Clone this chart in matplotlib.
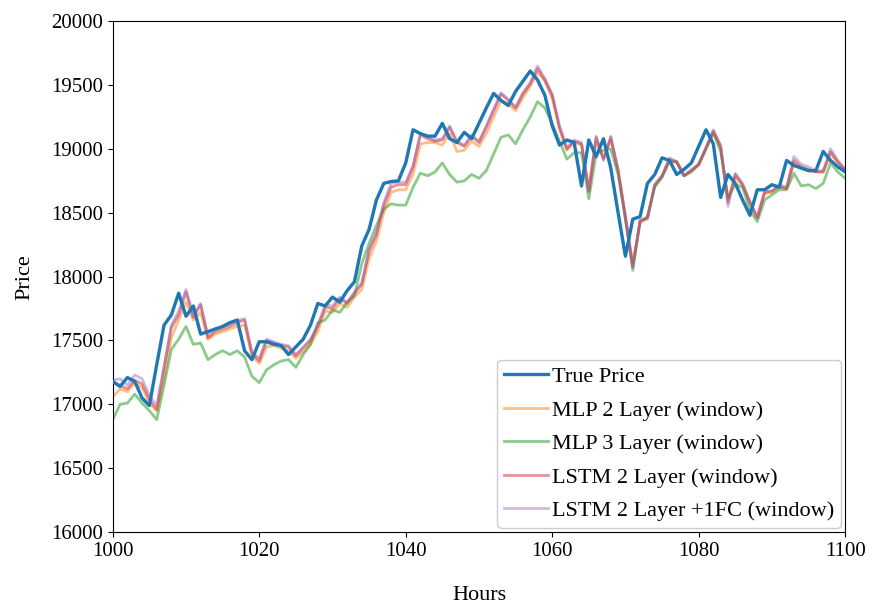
import numpy as np
import matplotlib
matplotlib.use("Agg")
import matplotlib.pyplot as plt

plt.rcParams['font.family'] = ['Liberation Serif', 'DejaVu Serif']

hours = np.arange(1000, 1101)

true_price = [17180, 17140, 17210, 17180, 17050, 16990, 17310, 17620, 17700, 17870,
              17690, 17770, 17550, 17570, 17590, 17610, 17640, 17660, 17420, 17350,
              17490, 17490, 17470, 17460, 17390, 17450, 17510, 17620, 17790, 17770,
              17840, 17800, 17890, 17960, 18240, 18370, 18600, 18730, 18745, 18750,
              18890, 19150, 19120, 19100, 19100, 19200, 19080, 19050, 19130, 19080,
              19200, 19320, 19435, 19380, 19340, 19450, 19530, 19610, 19540, 19420,
              19180, 19030, 19070, 19050, 18710, 19070, 18940, 19080, 18850, 18500,
              18160, 18450, 18470, 18730, 18800, 18930, 18910, 18800, 18840, 18890,
              19020, 19150, 19040, 18620, 18800, 18730, 18600, 18480, 18680, 18680,
              18720, 18700, 18910, 18870, 18850, 18830, 18830, 18980, 18910, 18860,
              18820]

mlp2 = [17060, 17120, 17100, 17170, 17130, 17010, 16950, 17200, 17520, 17660,
        17800, 17660, 17720, 17510, 17550, 17570, 17590, 17610, 17620, 17380,
        17320, 17450, 17460, 17440, 17420, 17360, 17410, 17470, 17570, 17730,
        17720, 17790, 17760, 17840, 17900, 18140, 18280, 18500, 18660, 18680,
        18680, 18800, 19040, 19050, 19050, 19030, 19120, 18980, 18990, 19060,
        19020, 19120, 19250, 19380, 19350, 19300, 19400, 19490, 19600, 19530,
        19400, 19150, 18990, 19050, 19030, 18690, 19060, 18930, 19070, 18840,
        18480, 18100, 18420, 18460, 18710, 18780, 18910, 18890, 18790, 18830,
        18870, 19000, 19120, 19010, 18600, 18780, 18710, 18580, 18470, 18650,
        18660, 18700, 18690, 18890, 18850, 18830, 18820, 18820, 18960, 18890,
        18830]

mlp3 = [16880, 17000, 17010, 17080, 17010, 16950, 16880, 17150, 17430, 17510,
        17610, 17470, 17480, 17350, 17390, 17420, 17390, 17420, 17370, 17220,
        17170, 17270, 17310, 17340, 17350, 17290, 17390, 17470, 17640, 17660,
        17740, 17720, 17800, 17850, 18100, 18260, 18400, 18530, 18570, 18560,
        18560, 18700, 18810, 18790, 18820, 18890, 18800, 18740, 18750, 18800,
        18770, 18830, 18960, 19090, 19110, 19040, 19150, 19250, 19370, 19320,
        19200, 19060, 18920, 18970, 18970, 18610, 18960, 18990, 19000, 18800,
        18450, 18050, 18430, 18470, 18700, 18780, 18900, 18900, 18790, 18820,
        18880, 19000, 19130, 18980, 18620, 18720, 18700, 18520, 18430, 18600,
        18640, 18680, 18680, 18810, 18710, 18720, 18690, 18730, 18890, 18820,
        18770]

lstm2 = [17170, 17150, 17120, 17190, 17160, 17040, 16960, 17280, 17600, 17700,
         17880, 17680, 17780, 17520, 17570, 17590, 17610, 17640, 17660, 17400,
         17340, 17500, 17480, 17460, 17450, 17380, 17440, 17500, 17610, 17760,
         17750, 17830, 17790, 17870, 17940, 18200, 18330, 18560, 18700, 18720,
         18720, 18860, 19110, 19080, 19060, 19070, 19170, 19050, 19020, 19100,
         19050, 19170, 19300, 19430, 19380, 19320, 19430, 19510, 19630, 19540,
         19420, 19170, 19000, 19060, 19040, 18670, 19090, 18920, 19090, 18830,
         18460, 18080, 18440, 18460, 18720, 18790, 18920, 18900, 18790, 18830,
         18880, 19010, 19140, 19020, 18580, 18800, 18720, 18580, 18460, 18660,
         18670, 18710, 18690, 18910, 18860, 18840, 18820, 18820, 18980, 18900,
         18840]

lstm2_fc = [17190, 17200, 17150, 17230, 17200, 17070, 16990, 17300, 17620, 17730,
            17900, 17700, 17790, 17540, 17590, 17610, 17630, 17660, 17670, 17410,
            17360, 17510, 17490, 17470, 17460, 17390, 17450, 17510, 17620, 17780,
            17770, 17840, 17800, 17880, 17950, 18220, 18350, 18580, 18730, 18740,
            18740, 18870, 19120, 19090, 19070, 19080, 19180, 19060, 19030, 19110,
            19060, 19180, 19310, 19440, 19390, 19330, 19440, 19520, 19650, 19550,
            19430, 19180, 19010, 19070, 19050, 18660, 19100, 18910, 19100, 18830,
            18460, 18070, 18440, 18450, 18720, 18790, 18930, 18900, 18790, 18840,
            18880, 19010, 19150, 19030, 18550, 18810, 18730, 18590, 18460, 18670,
            18670, 18720, 18700, 18940, 18880, 18860, 18830, 18830, 19000, 18910,
            18840]

fig = plt.figure(figsize=(8.74, 6.06), dpi=100)
ax = fig.add_axes([0.129, 0.122, 0.838, 0.843])

ax.plot(hours, true_price, color='#1f77b4', lw=2.4, label='True Price', zorder=6)
ax.plot(hours, mlp2, color='#ff7f0e', lw=2, alpha=0.5, label='MLP 2 Layer (window)')
ax.plot(hours, mlp3, color='#2ca02c', lw=2, alpha=0.55, label='MLP 3 Layer (window)')
ax.plot(hours, lstm2, color='#d62728', lw=2, alpha=0.5, label='LSTM 2 Layer (window)')
ax.plot(hours, lstm2_fc, color='#9467bd', lw=2, alpha=0.45, label='LSTM 2 Layer +1FC (window)')

ax.set_xlim(1000, 1100)
ax.set_ylim(16000, 20000)
ax.set_xticks([1000, 1020, 1040, 1060, 1080, 1100])
ax.set_yticks(np.arange(16000, 20001, 500))
ax.tick_params(labelsize=15)
ax.set_xlabel('Hours', fontsize=16, labelpad=18)
ax.set_ylabel('Price', fontsize=16, labelpad=12)

ax.legend(loc='lower right', fontsize=16, handletextpad=0.15, labelspacing=0.58,
          borderpad=0.3, handlelength=2.0, framealpha=1, edgecolor='#cccccc',
          borderaxespad=0.2)

fig.savefig('out.png', dpi=100)
